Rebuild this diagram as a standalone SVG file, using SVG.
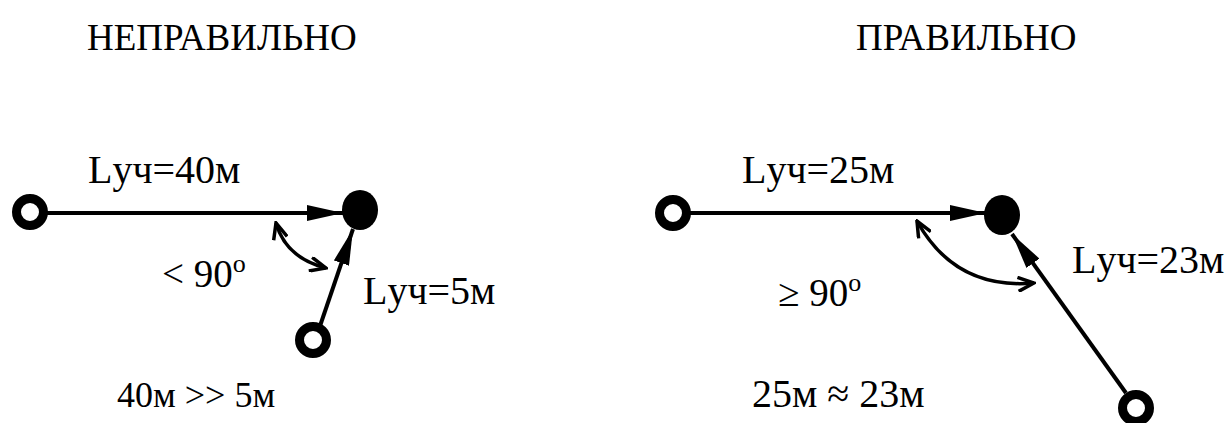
<svg xmlns="http://www.w3.org/2000/svg" width="1228" height="423" viewBox="0 0 1228 423">
<style>
text{font-family:"Liberation Serif","Times New Roman",serif;font-size:36px;fill:#000}
.t{font-size:37px}
.lb{font-size:40px}
.ang{font-size:39px}
.sup{font-size:26px}
.b2{font-size:40px}
.ln{stroke:#000;stroke-width:4;fill:none}
.open{fill:#fff;stroke:#000;stroke-width:9}
.arc{stroke:#000;stroke-width:3.5;fill:none}
</style>
<defs>
<marker id="tri" viewBox="0 0 36 16" refX="36" refY="8" markerWidth="36" markerHeight="16" markerUnits="userSpaceOnUse" orient="auto">
<path d="M0,0 L36,8 L0,16 Z" fill="#000"/>
</marker>
<marker id="chev" viewBox="0 0 20 16" refX="18" refY="8" markerWidth="20" markerHeight="16" markerUnits="userSpaceOnUse" orient="auto-start-reverse">
<path d="M2,1 L18,8 L2,15" fill="none" stroke="#000" stroke-width="3.5"/>
</marker>
</defs>
<rect width="1228" height="423" fill="#fff"/>
<text class="t" x="87" y="50">НЕПРАВИЛЬНО</text>
<text class="t" x="856" y="50">ПРАВИЛЬНО</text>
<g id="connectors">
<line class="ln" x1="40" y1="213" x2="343" y2="213" marker-end="url(#tri)"/>
<line class="ln" x1="320" y1="326" x2="353" y2="229" marker-end="url(#tri)"/>
<path class="arc" d="M276,223 Q286,258 326,268" marker-start="url(#chev)" marker-end="url(#chev)"/>
<line class="ln" x1="685" y1="213" x2="986" y2="213" marker-end="url(#tri)"/>
<line class="ln" x1="1126" y1="393" x2="1012" y2="234" marker-end="url(#tri)"/>
<path class="arc" d="M917,221 Q955,290 1034,283" marker-start="url(#chev)" marker-end="url(#chev)"/>
</g>
<g id="left-start"><circle class="open" cx="30" cy="212" r="13.5"/></g>
<g id="left-target"><ellipse cx="360" cy="210" rx="18" ry="20" fill="#000"/></g>
<g id="left-branch"><circle class="open" cx="313" cy="340" r="13.5"/></g>
<g id="right-start"><circle class="open" cx="673" cy="213" r="13.5"/></g>
<g id="right-target"><ellipse cx="1002" cy="215" rx="18" ry="20" fill="#000"/></g>
<g id="right-branch"><circle class="open" cx="1136" cy="408" r="13.5"/></g>
<text class="lb" x="88" y="183">Lуч=40м</text>
<text class="ang" x="162" y="287">&lt; 90<tspan class="sup" dy="-15">o</tspan></text>
<text class="lb" x="363" y="304">Lуч=5м</text>
<text x="117" y="407">40м &gt;&gt; 5м</text>
<text class="lb" x="742" y="183">Lуч=25м</text>
<text class="lb" x="1072" y="273">Lуч=23м</text>
<text class="ang" x="778" y="306">≥ 90<tspan class="sup" dy="-15">o</tspan></text>
<text class="b2" x="752" y="407">25м ≈ 23м</text>
</svg>
